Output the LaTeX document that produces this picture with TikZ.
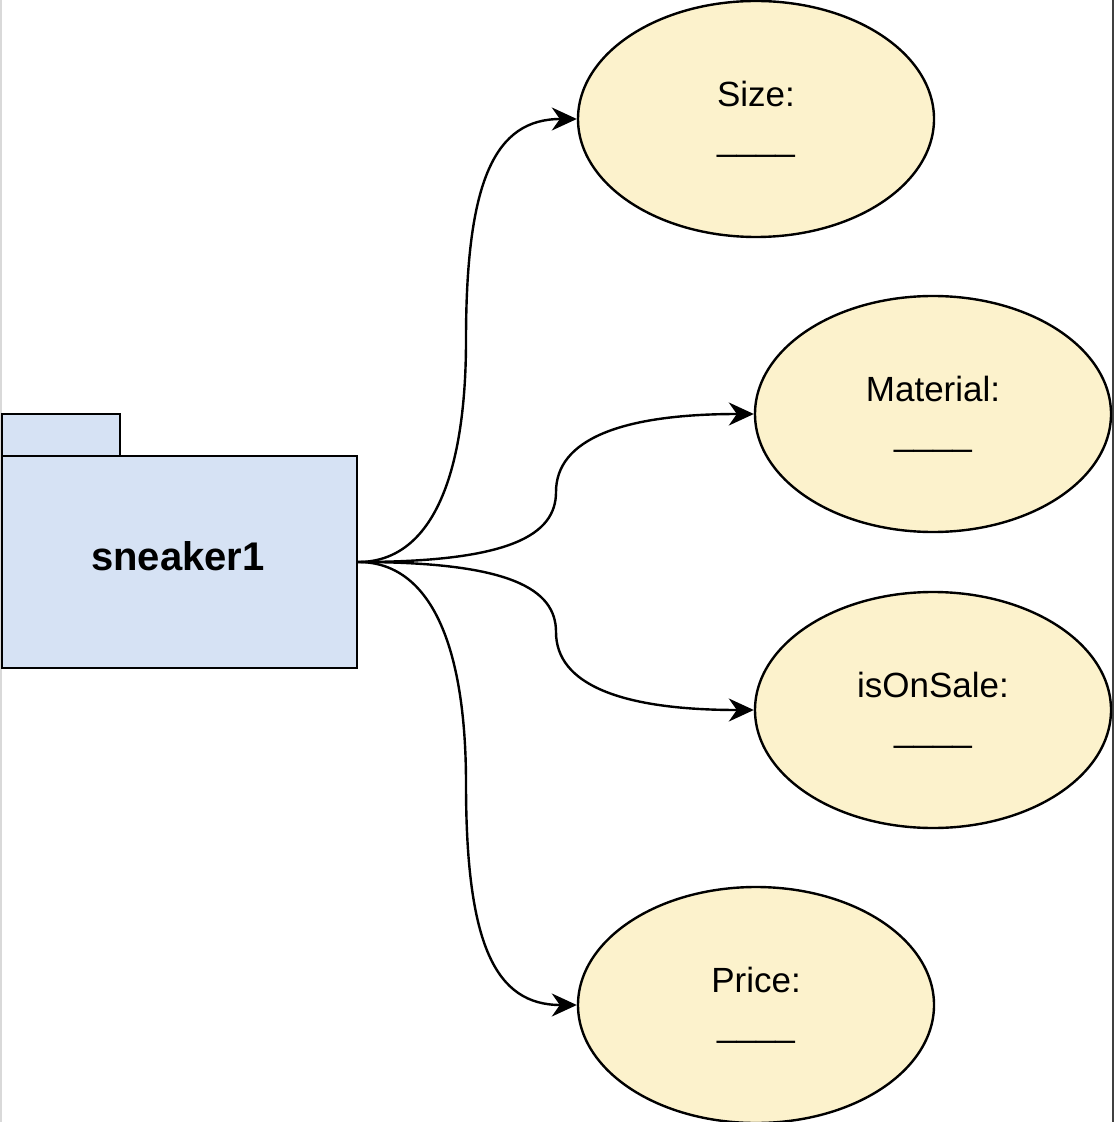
\documentclass[tikz,border=0pt]{standalone}
\usepackage{fontspec}
\setmainfont{Liberation Sans}
\usetikzlibrary{shapes.geometric,arrows.meta}
\definecolor{attrfill}{HTML}{FCF2CC}
\definecolor{pkgfill}{HTML}{D6E2F4}
\tikzset{
  attr/.style={ellipse, draw=black, line width=1.2pt, fill=attrfill,
    minimum width=178pt, minimum height=118pt, inner sep=0pt,
    align=center, font=\fontsize{17.5}{22}\selectfont},
  pkgbox/.style={draw=black, line width=1.2pt, fill=pkgfill, inner sep=0pt},
  conn/.style={draw=black, line width=1.2pt, -{Stealth[length=12.5pt,width=11.5pt,inset=4pt]}},
}
\begin{document}
\begin{tikzpicture}[x=0.5pt,y=-0.5pt]
\useasboundingbox (0,0) rectangle (1114,1122);
% frame edges
\draw[color=black!15, line width=0.8pt] (0.8,0) -- (0.8,1122);
\draw[color=black!75, line width=1pt] (1113,0) -- (1113,1122);
% package
\node[pkgbox, minimum width=59pt, minimum height=21pt] (tab) at (61,435) {};
\node[pkgbox, minimum width=177.5pt, minimum height=106pt] (pkg) at (179.5,562) {};
\node[font=\fontsize{20}{24}\selectfont\bfseries] (lbl) at (178,556) {sneaker1};
% attributes
\node[attr] (size) at (756,119) {Size:\\\_\_\_\_};
\node[attr] (material) at (933,414) {Material:\\\_\_\_\_};
\node[attr] (sale) at (933,710) {isOnSale:\\\_\_\_\_};
\node[attr] (price) at (756,1005) {Price:\\\_\_\_\_};
% waypoints
\coordinate (w1) at (466,340);
\coordinate (w2) at (556,492);
\coordinate (w3) at (556,632);
\coordinate (w4) at (466,784);
% connectors
\draw[conn] (pkg.east) .. controls (430,562) and (466,480) .. (w1)
  .. controls (466,180) and (495,119) .. (size.west);
\draw[conn] (pkg.east) .. controls (510,562) and (556,535) .. (w2)
  .. controls (556,440) and (620,414) .. (material.west);
\draw[conn] (pkg.east) .. controls (510,562) and (556,589) .. (w3)
  .. controls (556,684) and (620,710) .. (sale.west);
\draw[conn] (pkg.east) .. controls (430,562) and (466,644) .. (w4)
  .. controls (466,944) and (495,1005) .. (price.west);
\end{tikzpicture}
\end{document}
